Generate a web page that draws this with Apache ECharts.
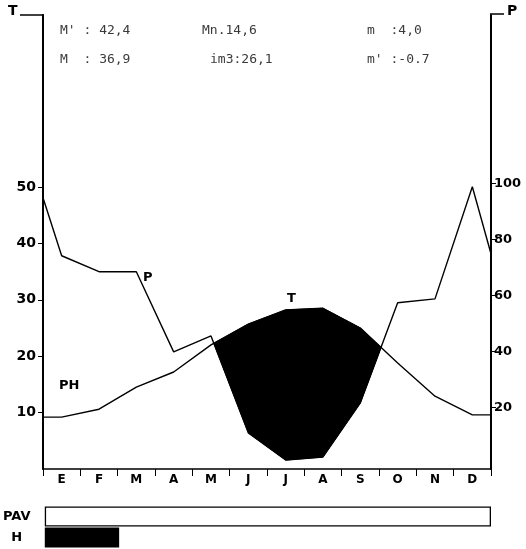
<!DOCTYPE html>
<html>
<head>
<meta charset="utf-8">
<script src="https://cdn.jsdelivr.net/npm/echarts@6/dist/echarts.min.js"></script>
<style>html,body{margin:0;padding:0;background:#fff}#c{width:526px;height:549px}</style>
</head>
<body>
<div id="c"></div>
<script>
// ---- data ----
const months = ['E','F','M','A','M','J','J','A','S','O','N','D'];
const tempC = [9.2, 10.6, 14.5, 17.2, 22.0, 25.7, 28.2, 28.5, 25.0, 18.8, 12.9, 9.6];
const precipMm = [74.1, 68.4, 68.4, 39.8, 45.5, 10.9, 1.2, 2.3, 21.6, 57.3, 58.7, 98.7];
const tempEdges = [9.2, 9.6];      // line values at the start / end of the year
const precipEdges = [94.8, 74.8];
const tempTicks = [10, 20, 30, 40, 50];
const precipTicks = [20, 40, 60, 80, 100];
const tempRange = [0, 80.5];
const precipRange = [-2, 160];
const periodNames = ['H', 'PAV'];
const periodMonths = [2, 12];
const statsRow1 = ["M' : 42,4", "Mn.14,6", "m  :4,0"];
const statsRow2 = ["M  : 36,9", "im3:26,1", "m' :-0.7"];

// ---- build series data (x in month units, 0..12) ----
function withEdges(vals, edges) {
  const out = [[0, edges[0]]];
  vals.forEach((v, i) => out.push([i + 0.5, v]));
  out.push([12, edges[1]]);
  return out;
}
const tSeries = withEdges(tempC, tempEdges);
const pSeries = withEdges(precipMm, precipEdges);
// express a precipitation value on the temperature axis (same plot height)
function pToT(p) {
  return tempRange[0] + (p - precipRange[0]) / (precipRange[1] - precipRange[0]) * (tempRange[1] - tempRange[0]);
}
// polygons of the dry period (T curve above P curve)
function dryPolygons() {
  const polys = [];
  let upper = null, lower = null;
  for (let i = 0; i < tSeries.length; i++) {
    const x = tSeries[i][0], t = tSeries[i][1], p = pToT(pSeries[i][1]);
    const d = t - p;
    if (i > 0) {
      const xp = tSeries[i-1][0], tp = tSeries[i-1][1], pp = pToT(pSeries[i-1][1]);
      const dp = tp - pp;
      if ((dp > 0) !== (d > 0)) {
        const f = dp / (dp - d);
        const xc = xp + f * (x - xp), yc = tp + f * (t - tp);
        if (d > 0) { upper = [[xc, yc]]; lower = [[xc, yc]]; }
        else if (upper) { upper.push([xc, yc]); polys.push(upper.concat(lower.reverse())); upper = lower = null; }
      }
    }
    if (d > 0) {
      if (!upper) { upper = []; lower = []; }
      upper.push([x, t]); lower.push([x, p]);
    }
  }
  if (upper) polys.push(upper.concat(lower.reverse()));
  return polys;
}
const polys = dryPolygons();

const boldFont = 'DejaVu Sans';
const statFont = '13px "DejaVu Sans Mono"';
const chart = echarts.init(document.getElementById('c'), null, {renderer: 'canvas'});
const statsX1 = [60, 202, 367];
const statsX2 = [60, 210, 367];
const graphics = [];
statsRow1.forEach((s, i) => graphics.push({type:'text', x: statsX1[i], y: 31, style:{text:s, font:statFont, fill:'#3a3a3a', verticalAlign:'middle'}}));
statsRow2.forEach((s, i) => graphics.push({type:'text', x: statsX2[i], y: 60, style:{text:s, font:statFont, fill:'#3a3a3a', verticalAlign:'middle'}}));
graphics.push(
  {type:'line', shape:{x1:20, y1:15, x2:44, y2:15}, style:{stroke:'#000', lineWidth:1.5}},
  {type:'text', left: 8, top: 4, style:{text:'T', font:'bold 14px "DejaVu Sans"', fill:'#000'}},
  {type:'line', shape:{x1:490, y1:14, x2:504, y2:14}, style:{stroke:'#000', lineWidth:1.5}},
  {type:'text', left: 507, top: 4, style:{text:'P', font:'bold 14px "DejaVu Sans"', fill:'#000'}},
  {type:'text', left: 143, top: 271, style:{text:'P', font:'bold 13px "DejaVu Sans"', fill:'#000'}},
  {type:'text', left: 287, top: 292, style:{text:'T', font:'bold 13px "DejaVu Sans"', fill:'#000'}},
  {type:'text', left: 59, top: 379, style:{text:'PH', font:'bold 13px "DejaVu Sans"', fill:'#000'}}
);

const option = {
  animation: false,
  backgroundColor: '#fff',
  grid: [
    {left: 43, right: 35, top: 15, bottom: 80},
    {left: 43, right: 35, top: 506, height: 42}
  ],
  xAxis: [
    {type:'category', gridIndex:0, data: months, boundaryGap:true,
     axisLine:{lineStyle:{color:'#000', width:1.5}},
     axisTick:{show:true, interval:0, length:7, lineStyle:{color:'#000', width:1}},
     axisLabel:{interval:0, color:'#000', fontWeight:'bold', fontFamily:boldFont, fontSize:12, margin:5},
     splitLine:{show:false}},
    {type:'value', gridIndex:0, min:0, max:12, show:false},
    {type:'value', gridIndex:1, min:0, max:12, show:false}
  ],
  yAxis: [
    {type:'value', gridIndex:0, min:tempRange[0], max:tempRange[1], position:'left',
     axisLine:{show:true, lineStyle:{color:'#000', width:2}},
     axisTick:{show:true, length:5, customValues: tempTicks, lineStyle:{color:'#000', width:1}},
     axisLabel:{customValues: tempTicks, color:'#000', fontWeight:'bold', fontFamily:boldFont, fontSize:14, margin:7},
     splitLine:{show:false}},
    {type:'value', gridIndex:0, min:precipRange[0], max:precipRange[1], position:'right',
     axisLine:{show:true, lineStyle:{color:'#000', width:2}},
     axisTick:{show:true, length:5, customValues: precipTicks, lineStyle:{color:'#000', width:1}},
     axisLabel:{customValues: precipTicks, color:'#000', fontWeight:'bold', fontFamily:boldFont, fontSize:13, margin:3},
     splitLine:{show:false}},
    {type:'category', gridIndex:1, data: periodNames,
     axisLine:{show:false}, axisTick:{show:false},
     axisLabel:{color:'#000', fontWeight:'bold', fontFamily:boldFont, fontSize:13, align:'center', margin:28}}
  ],
  series: [
    {type:'custom', xAxisIndex:1, yAxisIndex:0, silent:true, z:1,
     data: polys.map((p, i) => [i]),
     renderItem: function(params, api) {
       const poly = polys[params.dataIndex];
       return {type:'polygon', shape:{points: poly.map(pt => api.coord(pt))}, style:{fill:'#000', stroke:'#000', lineWidth:1}};
     }},
    {type:'line', name:'P', xAxisIndex:1, yAxisIndex:1, data: pSeries, showSymbol:false, symbol:'none', z:3,
     lineStyle:{color:'#000', width:1.4}},
    {type:'line', name:'T', xAxisIndex:1, yAxisIndex:0, data: tSeries, showSymbol:false, symbol:'none', z:3,
     lineStyle:{color:'#000', width:1.4}},
    {type:'bar', xAxisIndex:2, yAxisIndex:2, barWidth:20,
     data: periodMonths.map((v, i) => ({value: v, itemStyle: i === 0 ? {color:'#000'} : {color:'#fff', borderColor:'#000', borderWidth:1.3}}))}
  ],
  graphic: graphics
};
chart.setOption(option);
</script>
</body>
</html>
